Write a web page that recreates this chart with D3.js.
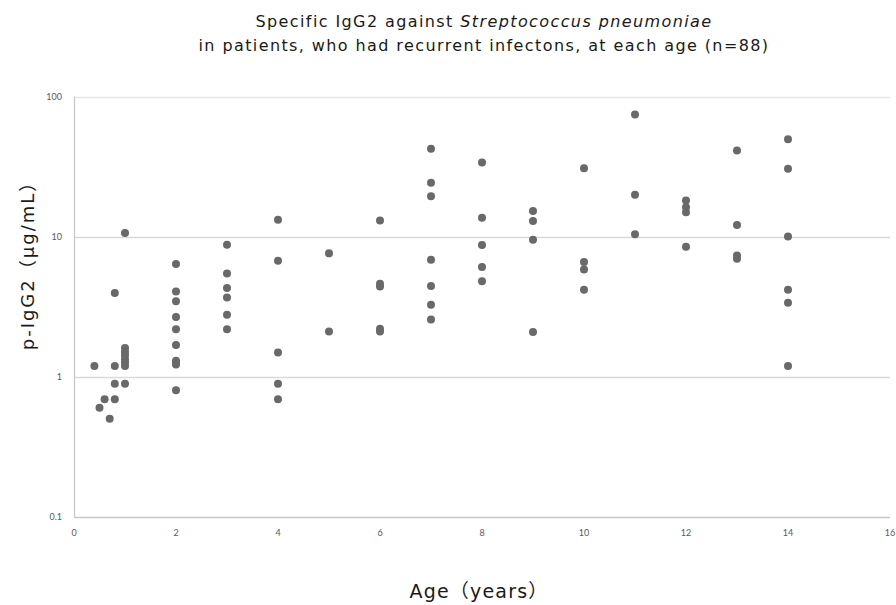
<!DOCTYPE html>
<html>
<head>
<meta charset="utf-8">
<script src="https://cdn.jsdelivr.net/npm/d3@7/dist/d3.min.js"></script>
<style>
  body { margin: 0; background: #fff; }
  svg { display: block; }
  .tick-label { font-family: Lato, "Open Sans", sans-serif; font-size: 9px; fill: #595959; }
  .ttl { font-family: "DejaVu Sans", "Noto Sans CJK JP", sans-serif; fill: #1a1a1a; }
</style>
</head>
<body>
<script>
// data: age (years) and specific IgG2 (ug/mL)
var ages = [
  0.4, 0.5, 0.6, 0.7, 0.8, 0.8, 0.8, 0.8,
  1, 1, 1, 1, 1, 1, 1, 1,
  2, 2, 2, 2, 2, 2, 2, 2, 2, 2,
  3, 3, 3, 3, 3, 3,
  4, 4, 4, 4, 4,
  5, 5,
  6, 6, 6, 6, 6,
  7, 7, 7, 7, 7, 7, 7,
  8, 8, 8, 8, 8,
  9, 9, 9, 9,
  10, 10, 10, 10,
  11, 11, 11,
  12, 12, 12, 12,
  13, 13, 13, 13,
  14, 14, 14, 14, 14, 14
];
var igg2 = [
  1.19, 0.6, 0.69, 0.5, 3.95, 1.19, 0.89, 0.69,
  10.6, 1.6, 1.5, 1.42, 1.33, 1.26, 1.19, 0.89,
  6.36, 4.06, 3.46, 2.66, 2.18, 1.68, 1.3, 1.22, 0.8, 1.25,
  8.75, 5.46, 4.29, 3.68, 2.77, 2.18,
  13.2, 6.73, 1.49, 0.89, 0.69,
  7.59, 2.1,
  13.0, 4.6, 4.4, 2.2, 2.1,
  42.4, 24.2, 19.4, 6.84, 4.43, 3.26, 2.56,
  33.8, 13.6, 8.7, 6.06, 4.8,
  15.2, 12.9, 9.5, 2.08,
  30.7, 6.58, 5.83, 4.18,
  74.5, 19.9, 10.4,
  18.1, 16.2, 14.9, 8.47,
  41.2, 12.1, 7.34, 6.95,
  49.6, 30.5, 10.0, 4.18, 3.37, 1.19
];
var xTicks = [0, 2, 4, 6, 8, 10, 12, 14, 16];
var yTicks = [0.1, 1, 10, 100];

var width = 896, height = 605;

var svg = d3.select("body").append("svg")
    .attr("width", width)
    .attr("height", height);

// scales
var x = d3.scaleLinear().domain([0, 16]).range([74, 890]);
var y = d3.scaleLog().domain([0.1, 100]).range([516.7, 96.5]);

// gridlines
svg.selectAll(".grid")
    .data(yTicks.slice(1))
    .enter().append("line")
    .attr("class", "grid")
    .attr("x1", x(0)).attr("x2", x(16))
    .attr("y1", function(d){ return Math.round(y(d)) + 0.5; })
    .attr("y2", function(d){ return Math.round(y(d)) + 0.5; })
    .attr("stroke", function(d){ return d == 100 ? "#e8e8e8" : "#d9d9d9"; })
    .attr("stroke-width", 1.3);

// axis lines
svg.append("line")
    .attr("x1", x(0) + 0.5).attr("x2", x(0) + 0.5)
    .attr("y1", y(100)).attr("y2", y(0.1) + 1)
    .attr("stroke", "#c8c8c8").attr("stroke-width", 1.3);
svg.append("line")
    .attr("x1", x(0)).attr("x2", x(16))
    .attr("y1", Math.round(y(0.1)) + 0.5).attr("y2", Math.round(y(0.1)) + 0.5)
    .attr("stroke", "#c8c8c8").attr("stroke-width", 1.3);

// tick labels
svg.selectAll(".ylab")
    .data(yTicks)
    .enter().append("text")
    .attr("class", "tick-label")
    .attr("x", 62)
    .attr("y", function(d){ return y(d) + 3; })
    .attr("text-anchor", "end")
    .text(function(d){ return d; });

svg.selectAll(".xlab")
    .data(xTicks)
    .enter().append("text")
    .attr("class", "tick-label")
    .attr("x", function(d){ return x(d); })
    .attr("y", 536)
    .attr("text-anchor", "middle")
    .text(function(d){ return d; });

// points
svg.selectAll(".dot")
    .data(d3.zip(ages, igg2))
    .enter().append("circle")
    .attr("class", "dot")
    .attr("cx", function(d){ return x(d[0]); })
    .attr("cy", function(d){ return y(d[1]); })
    .attr("r", 4)
    .attr("fill", "#696969");

// titles
var t1 = svg.append("text")
    .attr("class", "ttl")
    .attr("x", 484).attr("y", 27)
    .attr("text-anchor", "middle")
    .style("font-size", "16px")
    .style("letter-spacing", "1.4px");
t1.append("tspan").text("Specific IgG2 against ");
t1.append("tspan").style("font-style", "italic").text("Streptococcus pneumoniae");

svg.append("text")
    .attr("class", "ttl")
    .attr("x", 484).attr("y", 51)
    .attr("text-anchor", "middle")
    .style("font-size", "16px")
    .style("letter-spacing", "1.4px")
    .text("in patients, who had recurrent infectons, at each age (n=88)");

svg.append("text")
    .attr("class", "ttl")
    .attr("transform", "translate(34,261) rotate(-90)")
    .attr("text-anchor", "middle")
    .style("font-size", "18px")
    .style("letter-spacing", "2px")
    .text("p-IgG2（μg/mL）");

svg.append("text")
    .attr("class", "ttl")
    .attr("x", 479).attr("y", 598)
    .attr("text-anchor", "middle")
    .style("font-size", "19px")
    .style("letter-spacing", "1.2px")
    .text("Age（years）");
</script>
</body>
</html>
